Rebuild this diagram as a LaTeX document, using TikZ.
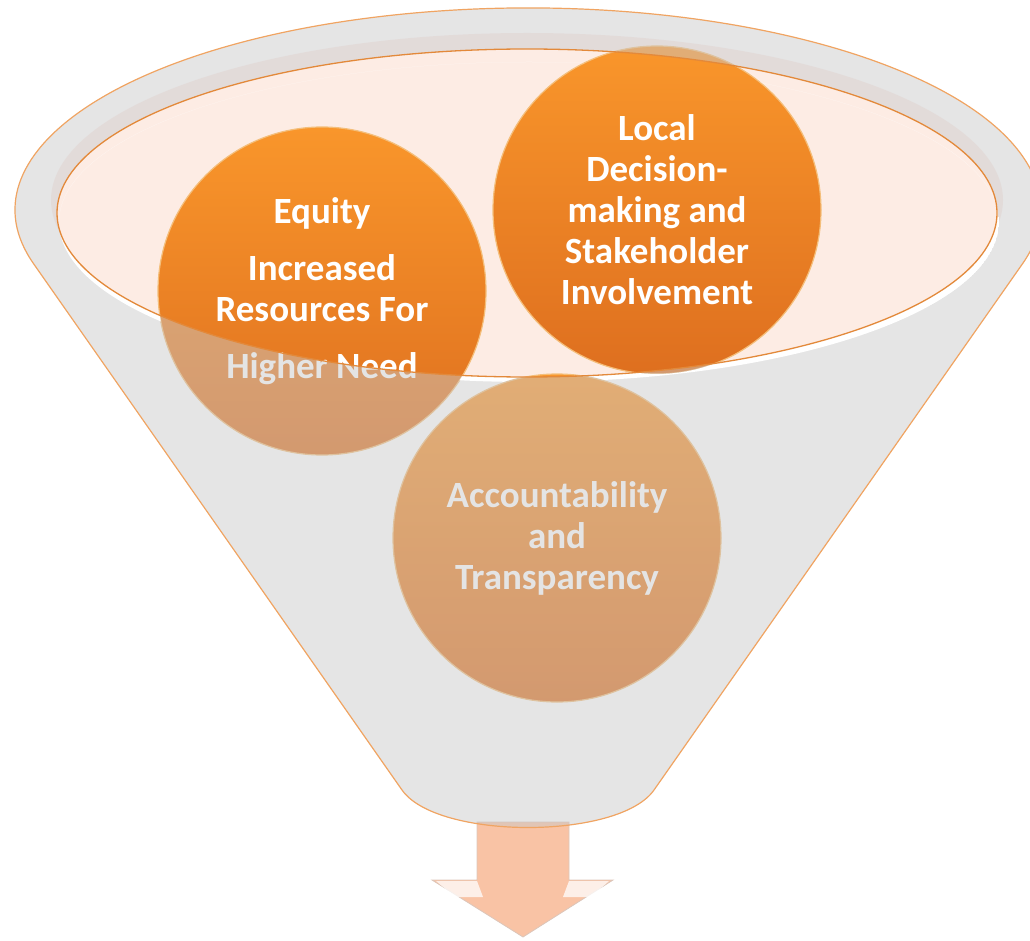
\documentclass[tikz,border=0pt]{standalone}
\usepackage{fontspec}
\setmainfont{Carlito}
\definecolor{orangetop}{HTML}{F9962B}
\definecolor{orangebot}{HTML}{DE6F1F}
\definecolor{bubblerim}{HTML}{F4BE7A}
\definecolor{funnelgrey}{HTML}{C8C8C8}
\definecolor{funnelline}{HTML}{F0A462}
\definecolor{lidfill}{HTML}{FDECE4}
\definecolor{lidline}{HTML}{E3893A}
\definecolor{bandfill}{HTML}{FBEEE9}
\definecolor{arrowfill}{HTML}{F9C3A5}
\definecolor{arrowline}{HTML}{DCC6BA}
\begin{document}
\begin{tikzpicture}[x=1pt,y=-1pt,
  bubble/.style={circle, inner sep=0pt, minimum size=328pt, draw=bubblerim,
    line width=1.2pt, top color=orangetop, bottom color=orangebot,
    text=white, align=center, font=\bfseries\fontsize{37}{41}\selectfont},
  funnelbody/.style={fill=funnelgrey, fill opacity=0.48},
  rimline/.style={draw=funnelline, line width=1.2pt},
  lidborder/.style={draw=lidline, line width=1.3pt}]
\useasboundingbox (0,0) rectangle (1030,941);

% arrow below the funnel
\coordinate (tip) at (523,937);
\draw[fill=arrowfill, draw=arrowline, line width=0.8pt]
  (477,822) -- (569,822) -- (569,880) -- (613,880) -- (tip)
  -- (432,880) -- (477,880) -- cycle;
\fill[white, opacity=0.75] (436,881) -- (477,881) -- (483,897) -- (455,897) -- cycle;
\fill[white, opacity=0.75] (609,881) -- (569,881) -- (563,897) -- (591,897) -- cycle;

% inner wall band and lid fill
\fill[bandfill] (527,200) ellipse[x radius=476, y radius=167];
\fill[lidfill] (527,213) ellipse[x radius=470, y radius=164];

% bubbles
\node[bubble] (acc) at (557,538) {Accountability\\and\\Transparency};
\node[bubble] (eq) at (322,291) {Equity\\[16pt]Increased\\Resources For\\[16pt]Higher Need};
\node[bubble] (loc) at (657,210) {Local\\Decision-\\making and\\Stakeholder\\Involvement};

% translucent funnel body, open where the lid is
\path[funnelbody, even odd rule]
  (33.5,263.6) arc[start angle=164.6, end angle=375.4, x radius=513, y radius=202]
  -- (654,790) .. controls (619,840) and (437,840) .. (402,790) -- cycle
  (527,213) ellipse[x radius=470, y radius=164];

% white crescent of the opening below the lid
\begin{scope}
  \clip (529,222) ellipse[x radius=470, y radius=160];
  \begin{scope}[even odd rule]
    \clip (-20,-20) rectangle (1060,960)
      (eq.center) circle[radius=164]
      (loc.center) circle[radius=164]
      (acc.center) circle[radius=165];
    \fill[white] (529,222) ellipse[x radius=470, y radius=160]
      (527,213) ellipse[x radius=470, y radius=164];
  \end{scope}
\end{scope}

% outlines
\draw[rimline]
  (33.5,263.6) arc[start angle=164.6, end angle=375.4, x radius=513, y radius=202]
  -- (654,790) .. controls (619,840) and (437,840) .. (402,790) -- cycle;
\draw[lidborder] (527,213) ellipse[x radius=470, y radius=164];
\end{tikzpicture}
\end{document}
